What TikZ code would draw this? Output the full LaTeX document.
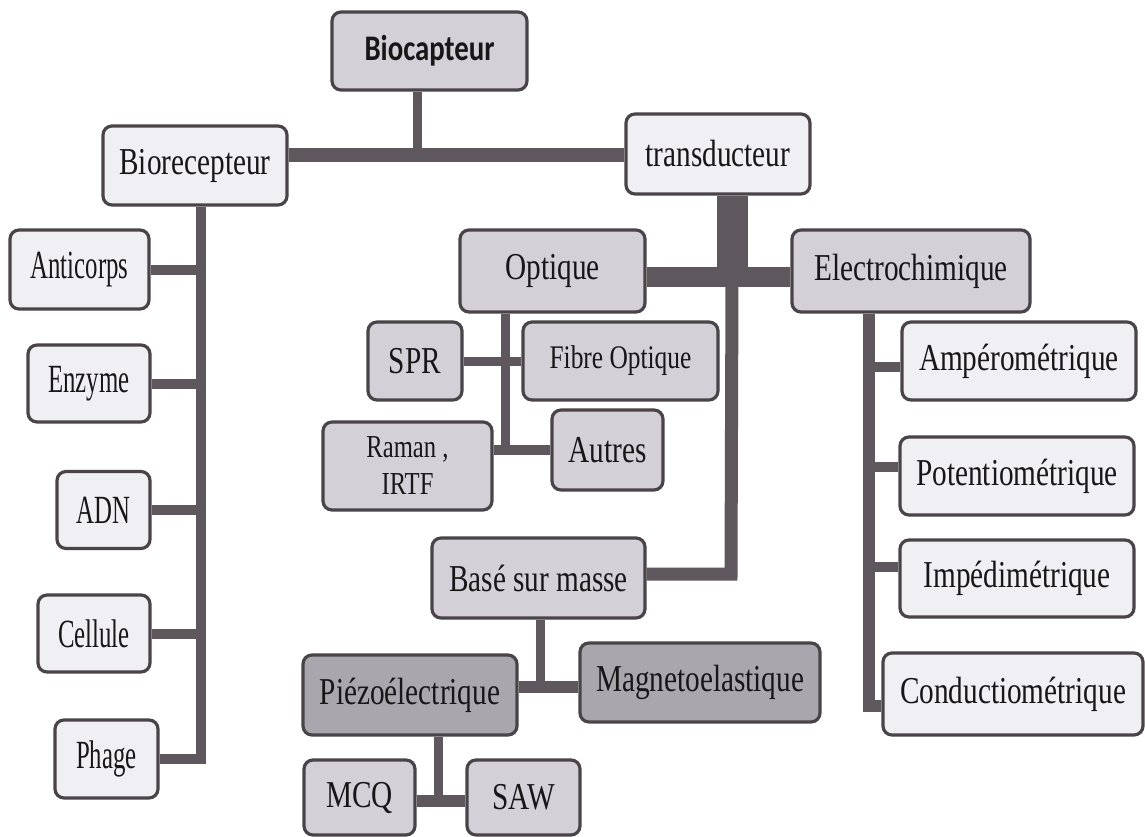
\documentclass[tikz,border=0pt]{standalone}
\usepackage{fontspec}
\setmainfont{Liberation Serif}[FakeStretch=0.77]
\newfontfamily\narrowfont{Liberation Serif}[FakeStretch=0.62]
\newfontfamily\biofont{Carlito}[FakeStretch=0.8]
\definecolor{litec}{RGB}{240,239,244}
\definecolor{midc}{RGB}{211,208,216}
\definecolor{darkc}{RGB}{170,166,174}
\definecolor{bordc}{RGB}{74,68,72}
\definecolor{connc}{RGB}{94,87,93}
\definecolor{txt}{RGB}{25,22,24}
\tikzset{
  box/.style={draw=bordc, line width=3.2pt, rounded corners=9pt, inner sep=0pt, text=txt, align=center},
  lite/.style={box, fill=litec},
  midb/.style={box, fill=midc},
  dark/.style={box, fill=darkc},
  conn/.style={draw=connc, line width=#1},
  conn/.default=9pt,
  big/.style={font=\fontsize{38}{42}\selectfont},
  sml/.style={font=\narrowfont\fontsize{40}{44}\selectfont},
  sz/.style 2 args={minimum width=#1, minimum height=#2},
}
\begin{document}
\begin{tikzpicture}[x=1pt,y=-1pt]
\useasboundingbox (0,0) rectangle (1145,837);
\fill[white] (0,0) rectangle (1145,837);

% nodes
\node[midb, sz={195pt}{78pt}, font=\biofont\bfseries\fontsize{36}{40}\selectfont] (bio) at (429.5,51) {Biocapteur};
\node[lite, big, sz={184pt}{79pt}] (biorec) at (195,165.5) {Biorecepteur};
\node[lite, big, sz={184pt}{80pt}] (trans) at (718,154) {transducteur};

\node[lite, sml, sz={139pt}{79pt}] (anti) at (79.5,269.5) {Anticorps};
\node[lite, sml, sz={122pt}{77pt}] (enz) at (89,383.5) {Enzyme};
\node[lite, sml, sz={93pt}{77pt}] (adn) at (103.5,510) {ADN};
\node[lite, sml, sz={112pt}{77pt}] (cell) at (94,633.5) {Cellule};
\node[lite, sml, sz={103pt}{78pt}] (phage) at (106.5,759) {Phage};

\node[midb, big, sz={185pt}{82pt}] (opt) at (552.5,271) {Optique};
\node[midb, big, sz={238pt}{82pt}] (elec) at (911,271) {Electrochimique};
\node[midb, big, sz={94pt}{78pt}] (spr) at (415,361) {SPR};
\node[midb, font=\fontsize{33}{38}\selectfont, sz={195pt}{78pt}] (fibre) at (620.5,361) {Fibre Optique};
\node[midb, font=\fontsize{32}{37}\selectfont, sz={169pt}{88pt}] (raman) at (407.5,466) {Raman ,\\IRTF};
\node[midb, big, sz={111pt}{80pt}] (autres) at (607.5,450) {Autres};
\node[midb, big, sz={213pt}{80pt}] (base) at (538.5,578) {Basé sur masse};
\node[dark, big, sz={214pt}{80pt}] (piezo) at (410,695) {Piézoélectrique};
\node[dark, big, sz={240pt}{79pt}] (magneto) at (700,682.5) {Magnetoelastique};
\node[midb, big, sz={111pt}{75pt}] (mcq) at (359.5,797.5) {MCQ};
\node[midb, big, sz={113pt}{75pt}] (saw) at (523.5,797.5) {SAW};

\node[lite, big, sz={234pt}{78pt}] (amp) at (1019,361) {Ampérométrique};
\node[lite, big, sz={234pt}{78pt}] (pot) at (1017,476) {Potentiométrique};
\node[lite, big, sz={234pt}{77pt}] (imp) at (1017,578.5) {Impédimétrique};
\node[lite, big, sz={260pt}{82pt}] (cond) at (1013,694) {Conductiométrique};

% junction coordinates
\coordinate (bx) at (417,155);
\coordinate (lv) at (201,0);
\coordinate (tj) at (732,277);
\coordinate (tb) at (731,574);
\coordinate (ov) at (505,450);
\coordinate (bj) at (540,687);
\coordinate (pj) at (438,801);
\coordinate (ev) at (869,0);
\coordinate (eA) at (869,367);
\coordinate (eB) at (869,467);
\coordinate (eC) at (869,567);
\coordinate (eD) at (869,706);

% connectors
\draw[conn=9pt] (bx |- bio.south) -- (bx);
\draw[conn=14pt] (biorec.east |- bx) -- (trans.west |- bx);

\draw[conn=10pt] (lv |- biorec.south) -- (lv |- phage.east) -- (phage.east);
\draw[conn=10pt] (anti.east) -- (lv |- anti.east);
\draw[conn=10pt] (enz.east) -- (lv |- enz.east);
\draw[conn=10pt] (adn.east) -- (lv |- adn.east);
\draw[conn=10pt] (cell.east) -- (lv |- cell.east);

\draw[conn=31pt] (tj |- trans.south) -- (tj);
\draw[conn=20pt] (opt.east |- tj) -- (elec.west |- tj);
\draw[conn=13pt] (tj) -- (tb) -- (tb -| base.east);

\draw[conn=9pt] (ov |- opt.south) -- (ov);
\draw[conn=9pt] (spr.east) -- (fibre.west);
\draw[conn=10pt] (raman.east |- ov) -- (autres.west |- ov);

\draw[conn=9pt] (bj |- base.south) -- (bj);
\draw[conn=12pt] (piezo.east |- bj) -- (magneto.west |- bj);
\draw[conn=9pt] (pj |- piezo.south) -- (pj);
\draw[conn=12pt] (mcq.east |- pj) -- (saw.west |- pj);

\draw[conn=12pt] (ev |- elec.south) -- (eD) -- (eD -| cond.west);
\draw[conn=10pt] (eA) -- (eA -| amp.west);
\draw[conn=10pt] (eB) -- (eB -| pot.west);
\draw[conn=10pt] (eC) -- (eC -| imp.west);
\end{tikzpicture}
\end{document}
